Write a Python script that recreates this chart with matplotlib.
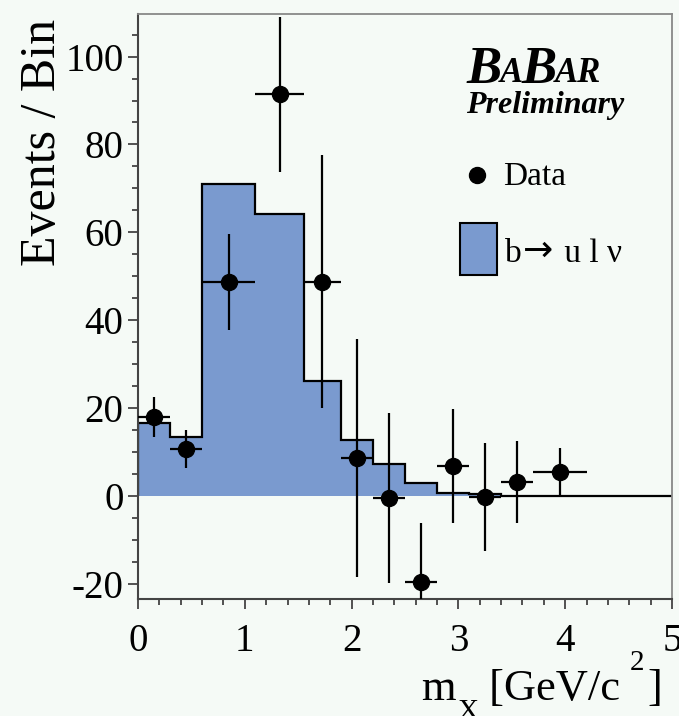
import numpy as np
import matplotlib
matplotlib.use("Agg")
import matplotlib.pyplot as plt
from matplotlib.ticker import MultipleLocator

plt.rcParams['font.family'] = ['Liberation Serif', 'DejaVu Serif']
plt.rcParams['axes.unicode_minus'] = False

# bin edges of the m_X histogram (GeV/c^2)
bin_edges = [0, 0.3, 0.6, 1.1, 1.55, 1.9, 2.2, 2.5, 2.8, 3.1, 3.4, 3.7, 4.2, 5.0]
# b -> u l nu expectation per bin
signal = [16.5, 13.4, 70.9, 64.1, 26.2, 12.8, 7.2, 2.8, 0.7, 0.3, 0, 0, 0]
# data points (first 12 bins)
data_y = [18.0, 10.6, 48.7, 91.4, 48.7, 8.7, -0.5, -19.6, 6.8, -0.2, 3.2, 5.5]
data_err = [4.6, 4.3, 11.0, 17.7, 28.8, 27.1, 19.3, 13.3, 13.0, 12.3, 9.3, 5.3]

bg = '#f5faf6'
blue = '#7a9acf'

edges = np.array(bin_edges)
n = len(data_y)
xc = 0.5 * (edges[:n] + edges[1:n + 1])
xe = 0.5 * (edges[1:n + 1] - edges[:n])

fig = plt.figure(figsize=(6.79, 7.16), dpi=100, facecolor=bg)
ax = fig.add_axes([138/679, 1 - 599/716, (672-138)/679, (599-14)/716])
ax.set_facecolor(bg)

ax.stairs(signal, edges, fill=True, color=blue, lw=0)
ax.stairs(signal, edges, color='black', lw=1.6)
ax.errorbar(xc, data_y, yerr=data_err, xerr=xe, fmt='o', color='black',
            ms=11.5, elinewidth=1.6, capsize=0, zorder=5)

ax.set_xlim(0, 5)
ax.set_ylim(-23.5, 109.7)
ax.xaxis.set_major_locator(MultipleLocator(1))
ax.xaxis.set_minor_locator(MultipleLocator(0.2))
ax.yaxis.set_major_locator(MultipleLocator(20))
ax.yaxis.set_minor_locator(MultipleLocator(5))
ax.tick_params(which='both', direction='out', color='#444', width=1.3,
               top=False, right=False)
ax.tick_params(which='major', length=7.5, labelsize=28)
ax.tick_params(which='minor', length=4)
ax.tick_params(axis='y', pad=3)
ax.tick_params(axis='x', pad=10)
for s in ['left', 'bottom']:
    ax.spines[s].set_color('#444')
    ax.spines[s].set_linewidth(1.5)
for s in ['top', 'right']:
    ax.spines[s].set_color('#888')
    ax.spines[s].set_linewidth(1.3)

fig.text(19/679, 1 - 19/716, 'Events / Bin', rotation=90, ha='left', va='top',
         fontsize=36)

# x title, pieced together ROOT style
xl_m = fig.text(421/679, 1 - 700/716, 'm', va='baseline', fontsize=32)
xl_x = ax.annotate('X', xy=(1, 0), xycoords=xl_m, xytext=(1, -11.5),
                   textcoords='offset points', va='bottom', fontsize=21)
xl_u = ax.annotate(' [GeV/c', xy=(1, 0), xycoords=xl_x, xytext=(0, 11.5),
                   textcoords='offset points', va='bottom', fontsize=32)
xl_2 = ax.annotate('2', xy=(1, 0), xycoords=xl_u, xytext=(7, 23.5),
                   textcoords='offset points', va='bottom', fontsize=21)
ax.annotate(']', xy=(1, 0), xycoords=xl_2, xytext=(2, -23.5),
            textcoords='offset points', va='bottom', fontsize=32)

# BaBar logo
bb = dict(fontweight='bold', fontstyle='italic')
t1 = ax.text(0.615, 0.8815, 'B', transform=ax.transAxes, fontsize=38,
             va='baseline', **bb)
t2 = ax.annotate('A', xy=(1, 0), xycoords=t1, xytext=(-1.5, 2.8),
                 textcoords='offset points', va='bottom', fontsize=25, **bb)
t3 = ax.annotate('B', xy=(1, 0), xycoords=t2, xytext=(-0.5, -2.8),
                 textcoords='offset points', va='bottom', fontsize=38, **bb)
t4 = ax.annotate('AR', xy=(1, 0), xycoords=t3, xytext=(-1.5, 2.8),
                 textcoords='offset points', va='bottom', fontsize=25, **bb)
ax.text(0.615, 0.83, 'Preliminary', transform=ax.transAxes, fontsize=23,
        va='baseline', **bb)

# legend
ax.plot([0.635], [0.725], 'o', color='black', ms=11.5, transform=ax.transAxes,
        clip_on=False)
ax.text(0.6835, 0.7077, 'Data', transform=ax.transAxes, fontsize=24,
        va='baseline')
ax.add_patch(plt.Rectangle((0.603, 0.5538), 0.0687, 0.0884,
                           transform=ax.transAxes, facecolor=blue,
                           edgecolor='black', lw=1.5))
lg_b = ax.text(0.687, 0.5766, 'b', transform=ax.transAxes, fontsize=24,
               va='baseline')
lg_a = ax.annotate('\u2192', xy=(1, 0), xycoords=lg_b, xytext=(1, 0.5),
                   textcoords='offset points', va='bottom', fontsize=26,
                   family='DejaVu Sans')
ax.annotate(' u l \u03bd', xy=(1, 0), xycoords=lg_a, xytext=(2, -0.5),
            textcoords='offset points', va='bottom', fontsize=24)

fig.savefig('out.png', dpi=100, facecolor=bg)
